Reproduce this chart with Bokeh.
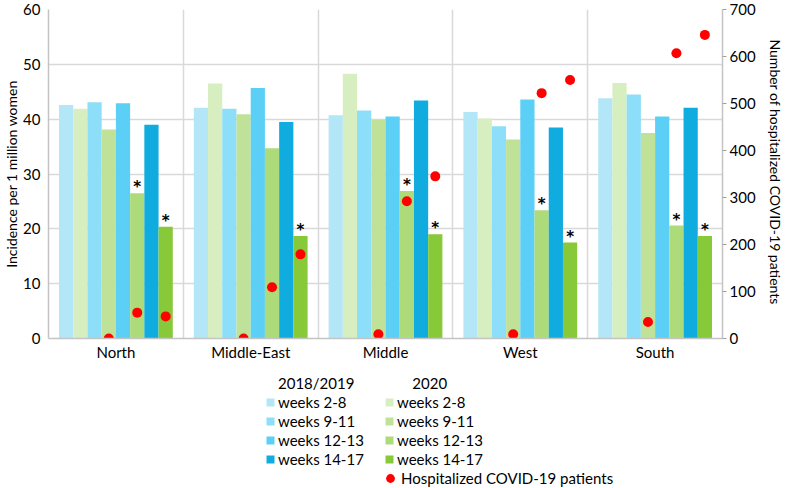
from bokeh.plotting import figure
from bokeh.layouts import column
from bokeh.models import (ColumnDataSource, Range1d, LinearAxis, FixedTicker,
                          Legend, LegendItem)
from bokeh.transform import dodge
from bokeh.core.properties import value
from bokeh.embed import file_html
from bokeh.resources import INLINE

# ---------------- data ----------------
regions = ["North", "Middle-East", "Middle", "West", "South"]
b_2_8 = [42.6, 42.1, 40.7, 41.3, 43.8]
g_2_8 = [41.9, 46.5, 48.3, 40.1, 46.6]
b_9_11 = [43.1, 41.9, 41.6, 38.7, 44.5]
g_9_11 = [38.1, 40.9, 39.9, 36.3, 37.5]
b_12_13 = [42.9, 45.7, 40.5, 43.6, 40.5]
g_12_13 = [26.5, 34.7, 26.9, 23.4, 20.6]
b_14_17 = [39.0, 39.5, 43.4, 38.5, 42.1]
g_14_17 = [20.4, 18.7, 19.0, 17.5, 18.7]
hosp_9_11 = [0, 0, 9, 9, 35]
hosp_12_13 = [55, 109, 292, 522, 607]
hosp_14_17 = [47, 179, 345, 550, 646]
sig_12_13 = [True, False, True, True, True]
sig_14_17 = [True, True, True, True, True]
week_labels = ["weeks 2-8", "weeks 9-11", "weeks 12-13", "weeks 14-17"]
period_labels = ["2018/2019", "2020"]
hosp_label = "Hospitalized COVID-19 patients"
left_ticks = [0, 10, 20, 30, 40, 50, 60]
right_ticks = [0, 100, 200, 300, 400, 500, 600, 700]

FONT = "Lato"
NAN = float("nan")
idx = list(range(len(regions)))
src = ColumnDataSource(dict(x=idx, b_2_8=b_2_8, g_2_8=g_2_8, b_9_11=b_9_11,
                            g_9_11=g_9_11, b_12_13=b_12_13, g_12_13=g_12_13,
                            b_14_17=b_14_17, g_14_17=g_14_17,
                            h_9_11=hosp_9_11, h_12_13=hosp_12_13, h_14_17=hosp_14_17))

p = figure(frame_width=674, frame_height=329,
           x_range=Range1d(-0.5, len(regions) - 0.5), y_range=Range1d(0, 60),
           output_backend="svg", toolbar_location=None,
           min_border_top=9, min_border_left=0, min_border_right=0,
           min_border_bottom=0)
p.extra_y_ranges = {"right": Range1d(0, 700)}
p.outline_line_color = None
p.background_fill_color = "white"

bar_w = 0.1055
series = [("b_2_8", "#b3e6f7"), ("g_2_8", "#d7eec0"),
          ("b_9_11", "#8ddef8"), ("g_9_11", "#c0e298"),
          ("b_12_13", "#5bcff5"), ("g_12_13", "#aedb7a"),
          ("b_14_17", "#10ace0"), ("g_14_17", "#88c93a")]
offs = {}
for k, (col, color) in enumerate(series):
    off = (k - 3.5) * bar_w
    offs[col] = off
    p.vbar(x=dodge("x", off, range=p.x_range), top=col, width=bar_w,
           source=src, fill_color=color, line_color=None)

# hospitalized patients (right axis)
for hcol, bcol in [("h_9_11", "g_9_11"), ("h_12_13", "g_12_13"), ("h_14_17", "g_14_17")]:
    p.scatter(x=dodge("x", offs[bcol], range=p.x_range), y=hcol, source=src,
              y_range_name="right", size=10, fill_color="#ff0000", line_color=None)

# significance asterisks
for flags, vals, col in [(sig_12_13, g_12_13, "g_12_13"), (sig_14_17, g_14_17, "g_14_17")]:
    sx = [i for i, f in zip(idx, flags) if f]
    sy = [v for v, f in zip(vals, flags) if f]
    s = ColumnDataSource(dict(x=sx, y=sy, t=["*"] * len(sx)))
    p.text(x=dodge("x", offs[col], range=p.x_range), y="y", text="t", source=s,
           text_align="center", text_baseline="bottom", y_offset=3,
           text_font=value("DejaVu Sans"), text_font_style="bold",
           text_font_size="15px", text_color="black")

# axes
ax = p.xaxis[0]
ax.ticker = FixedTicker(ticks=idx)
ax.major_label_overrides = {i: r for i, r in zip(idx, regions)}
ax.major_tick_line_color = None
ax.minor_tick_line_color = None
ax.axis_line_color = "#c4c4c4"
ax.axis_line_width = 1.5
ax.major_label_standoff = -2
ax.major_label_text_font = FONT
ax.major_label_text_font_size = "15px"
ax.major_label_text_color = "black"

ly = p.yaxis[0]
ly.ticker = FixedTicker(ticks=left_ticks)
ly.major_tick_line_color = None
ly.minor_tick_line_color = None
ly.axis_line_color = "#c4c4c4"
ly.axis_line_width = 1.5
ly.major_label_standoff = 2
ly.major_label_text_font = FONT
ly.major_label_text_font_size = "15px"
ly.major_label_text_color = "black"
ly.axis_label = "Incidence per 1 million women"
ly.axis_label_text_font = FONT
ly.axis_label_text_font_size = "14px"
ly.axis_label_text_font_style = "normal"
ly.axis_label_text_color = "black"
ly.axis_label_standoff = 0

ry = LinearAxis(y_range_name="right", ticker=FixedTicker(ticks=right_ticks))
ry.major_tick_out = 4
ry.major_tick_in = 0
ry.major_tick_line_color = "#a0a0a0"
ry.minor_tick_line_color = None
ry.axis_line_color = "#c4c4c4"
ry.axis_line_width = 1.5
ry.major_label_standoff = 3
ry.major_label_text_font = FONT
ry.major_label_text_font_size = "15px"
ry.major_label_text_color = "black"
ry.axis_label = "Number of hospitalized COVID-19  patients"
ry.axis_label_text_font = FONT
ry.axis_label_text_font_size = "14px"
ry.axis_label_text_font_style = "normal"
ry.axis_label_text_color = "black"
ry.axis_label_standoff = 8
p.add_layout(ry, "right")

# grids
p.ygrid.ticker = FixedTicker(ticks=left_ticks)
p.ygrid.grid_line_color = "#d9d9d9"
p.ygrid.grid_line_width = 1.5
p.xgrid.ticker = FixedTicker(ticks=[i + 0.5 for i in idx[:-1]])
p.xgrid.grid_line_color = "#d9d9d9"
p.xgrid.grid_line_width = 1.5

# ---------------- legend panel ----------------
LW = p.frame_width + 97
LH = 124
lp = figure(width=LW, height=LH, x_range=Range1d(0, 1), y_range=Range1d(0, 1),
            x_axis_type=None, y_axis_type=None, output_backend="svg",
            toolbar_location=None, min_border=0)
lp.outline_line_color = None
lp.grid.visible = False

# legend proxies (not drawn: NaN coordinates)
blank = lp.vbar(x=[NAN], top=[NAN], width=0.1, fill_alpha=0, line_alpha=0)
swatch = {col: lp.vbar(x=[NAN], top=[NAN], width=0.1, fill_color=color, line_color=None)
          for col, color in series}
hosp_r = lp.scatter(x=[NAN], y=[NAN], size=10, fill_color="#ff0000", line_color=None)

items = [LegendItem(label=period_labels[0], renderers=[blank])]
items += [LegendItem(label=week_labels[j], renderers=[swatch[series[2 * j][0]]]) for j in range(4)]
items += [LegendItem(label="\u00a0\u00a0\u00a0\u00a0" + period_labels[1], renderers=[blank])]
items += [LegendItem(label=week_labels[j], renderers=[swatch[series[2 * j + 1][0]]]) for j in range(4)]

common = dict(label_text_font=FONT, label_text_font_size="15px",
              label_text_color="black", border_line_color=None,
              background_fill_alpha=0, padding=0, margin=0)
leg1 = Legend(items=items, location=(217, 19), orientation="vertical", ncols=2,
              glyph_width=10, glyph_height=10, label_standoff=3, label_width=105,
              label_height=16, spacing=1, **common)
lp.add_layout(leg1, "center")

leg2 = Legend(items=[LegendItem(label=hosp_label, renderers=[hosp_r])],
              location=(331, -2), glyph_width=22, glyph_height=22,
              label_standoff=0, label_height=16, spacing=0, **common)
lp.add_layout(leg2, "center")

open("out.html", "w").write(file_html(column(p, lp), INLINE))
